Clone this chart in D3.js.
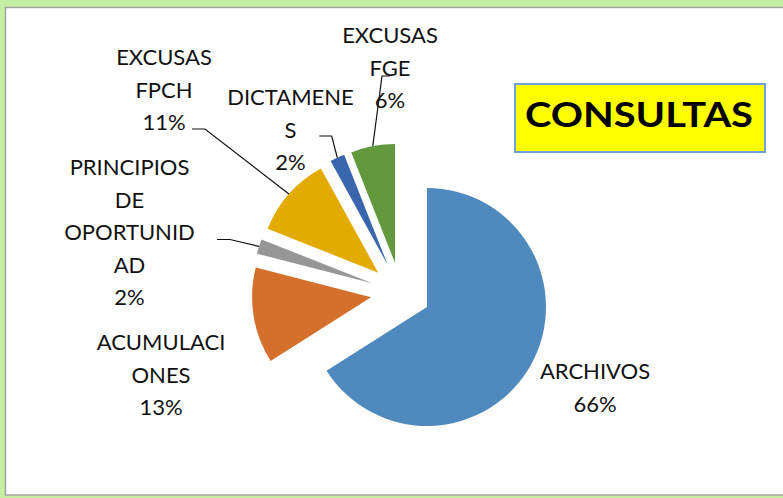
<!DOCTYPE html>
<html>
<head>
<meta charset="utf-8">
<script src="https://cdnjs.cloudflare.com/ajax/libs/d3/7.8.5/d3.min.js"></script>
<style>
  body { margin: 0; background: #c6eea3; }
  svg { display: block; }
  text { font-family: Lato, "Open Sans", sans-serif; }
</style>
</head>
<body>
<svg id="chart" width="783" height="498"></svg>
<script>
// data
var categories = ["ARCHIVOS", "ACUMULACIONES", "PRINCIPIOS DE OPORTUNIDAD", "EXCUSAS FPCH", "DICTAMENES", "EXCUSAS FGE"];
var values = [66, 13, 2, 11, 2, 6];
var colors = ["#4f89bd", "#d4702c", "#979797", "#e3ab00", "#3a66ad", "#62993f"];
var title = "CONSULTAS";

// label placement (center x, first baseline) and leader elbows
var labelX = [595, 161, 129.5, 164, 290.5, 390];
var labelY = [379, 350, 175, 65, 105, 43];
var leaders = [null, null, [[230, 239.5], [217, 239.5]], [[205, 129], [192, 129]], [[331.7, 136], [319.3, 136]], [[382, 76], [390, 76]]];

var svg = d3.select("#chart");
var lineH = 32.5;

// frame
svg.append("rect")
    .attr("x", 5.5).attr("y", 7.5)
    .attr("width", 790).attr("height", 487.5)
    .attr("fill", "#fff")
    .attr("stroke", "#a3a3a3")
    .attr("stroke-width", 1.5);

var cx = 400.7, cy = 292.5, r = 119, explode = 30;

var pie = d3.pie().sort(null).value(function(d){ return d; });
var arcs = pie(values);
var arc = d3.arc().innerRadius(0).outerRadius(r);
var edge = d3.arc().innerRadius(r).outerRadius(r);
var total = d3.sum(values);
var pct = d3.format(".0%");

function offset(d){
  var a = (d.startAngle + d.endAngle) / 2;
  return [explode * Math.sin(a), -explode * Math.cos(a)];
}

var g = svg.append("g").attr("transform", "translate(" + cx + "," + cy + ")");

g.selectAll("path.slice")
    .data(arcs)
  .enter().append("path")
    .attr("class", "slice")
    .attr("d", arc)
    .attr("fill", function(d, i){ return colors[i]; })
    .attr("transform", function(d){
      var o = offset(d);
      return "translate(" + o[0] + "," + o[1] + ")";
    });

// wrap names the way the spreadsheet does (words, then characters)
var maxW = 138;
var meas = svg.append("text").attr("font-size", 22).attr("visibility", "hidden");
function w(s){ meas.text(s); return meas.node().getComputedTextLength(); }
function wrap(name){
  var out = [];
  var cur = "";
  name.split(" ").forEach(function(word){
    var test = cur ? cur + " " + word : word;
    if (w(test) <= maxW) { cur = test; return; }
    if (cur) out.push(cur);
    cur = "";
    while (w(word) > maxW) {
      var k = word.length;
      while (k > 1 && w(word.slice(0, k)) > maxW) k--;
      out.push(word.slice(0, k));
      word = word.slice(k);
    }
    cur = word;
  });
  if (cur) out.push(cur);
  return out;
}

arcs.forEach(function(d, i){
  var lines = wrap(categories[i]);
  lines.push(pct(values[i] / total));
  var t = svg.append("text")
      .attr("font-size", 22)
      .attr("fill", "#111")
      .attr("text-anchor", "middle");
  lines.forEach(function(s, j){
    t.append("tspan").attr("x", labelX[i]).attr("y", labelY[i] + j * lineH).text(s);
  });
});
meas.remove();

// leader lines
arcs.forEach(function(d, i){
  if (!leaders[i]) return;
  var o = offset(d);
  var p = edge.centroid(d);
  var pts = [[cx + o[0] + p[0], cy + o[1] + p[1]]].concat(leaders[i]);
  svg.append("path")
      .attr("d", d3.line()(pts))
      .attr("fill", "none")
      .attr("stroke", "#111")
      .attr("stroke-width", 1.2);
});

// title box
svg.append("rect")
    .attr("x", 515).attr("y", 84)
    .attr("width", 250).attr("height", 68)
    .attr("fill", "#ffff00")
    .attr("stroke", "#6fa3dc")
    .attr("stroke-width", 2);
svg.append("text")
    .attr("x", 639).attr("y", 127)
    .attr("text-anchor", "middle")
    .attr("font-size", 35)
    .attr("font-weight", "bold")
    .attr("fill", "#000")
    .attr("textLength", 228)
    .attr("lengthAdjust", "spacingAndGlyphs")
    .text(title);
</script>
</body>
</html>
